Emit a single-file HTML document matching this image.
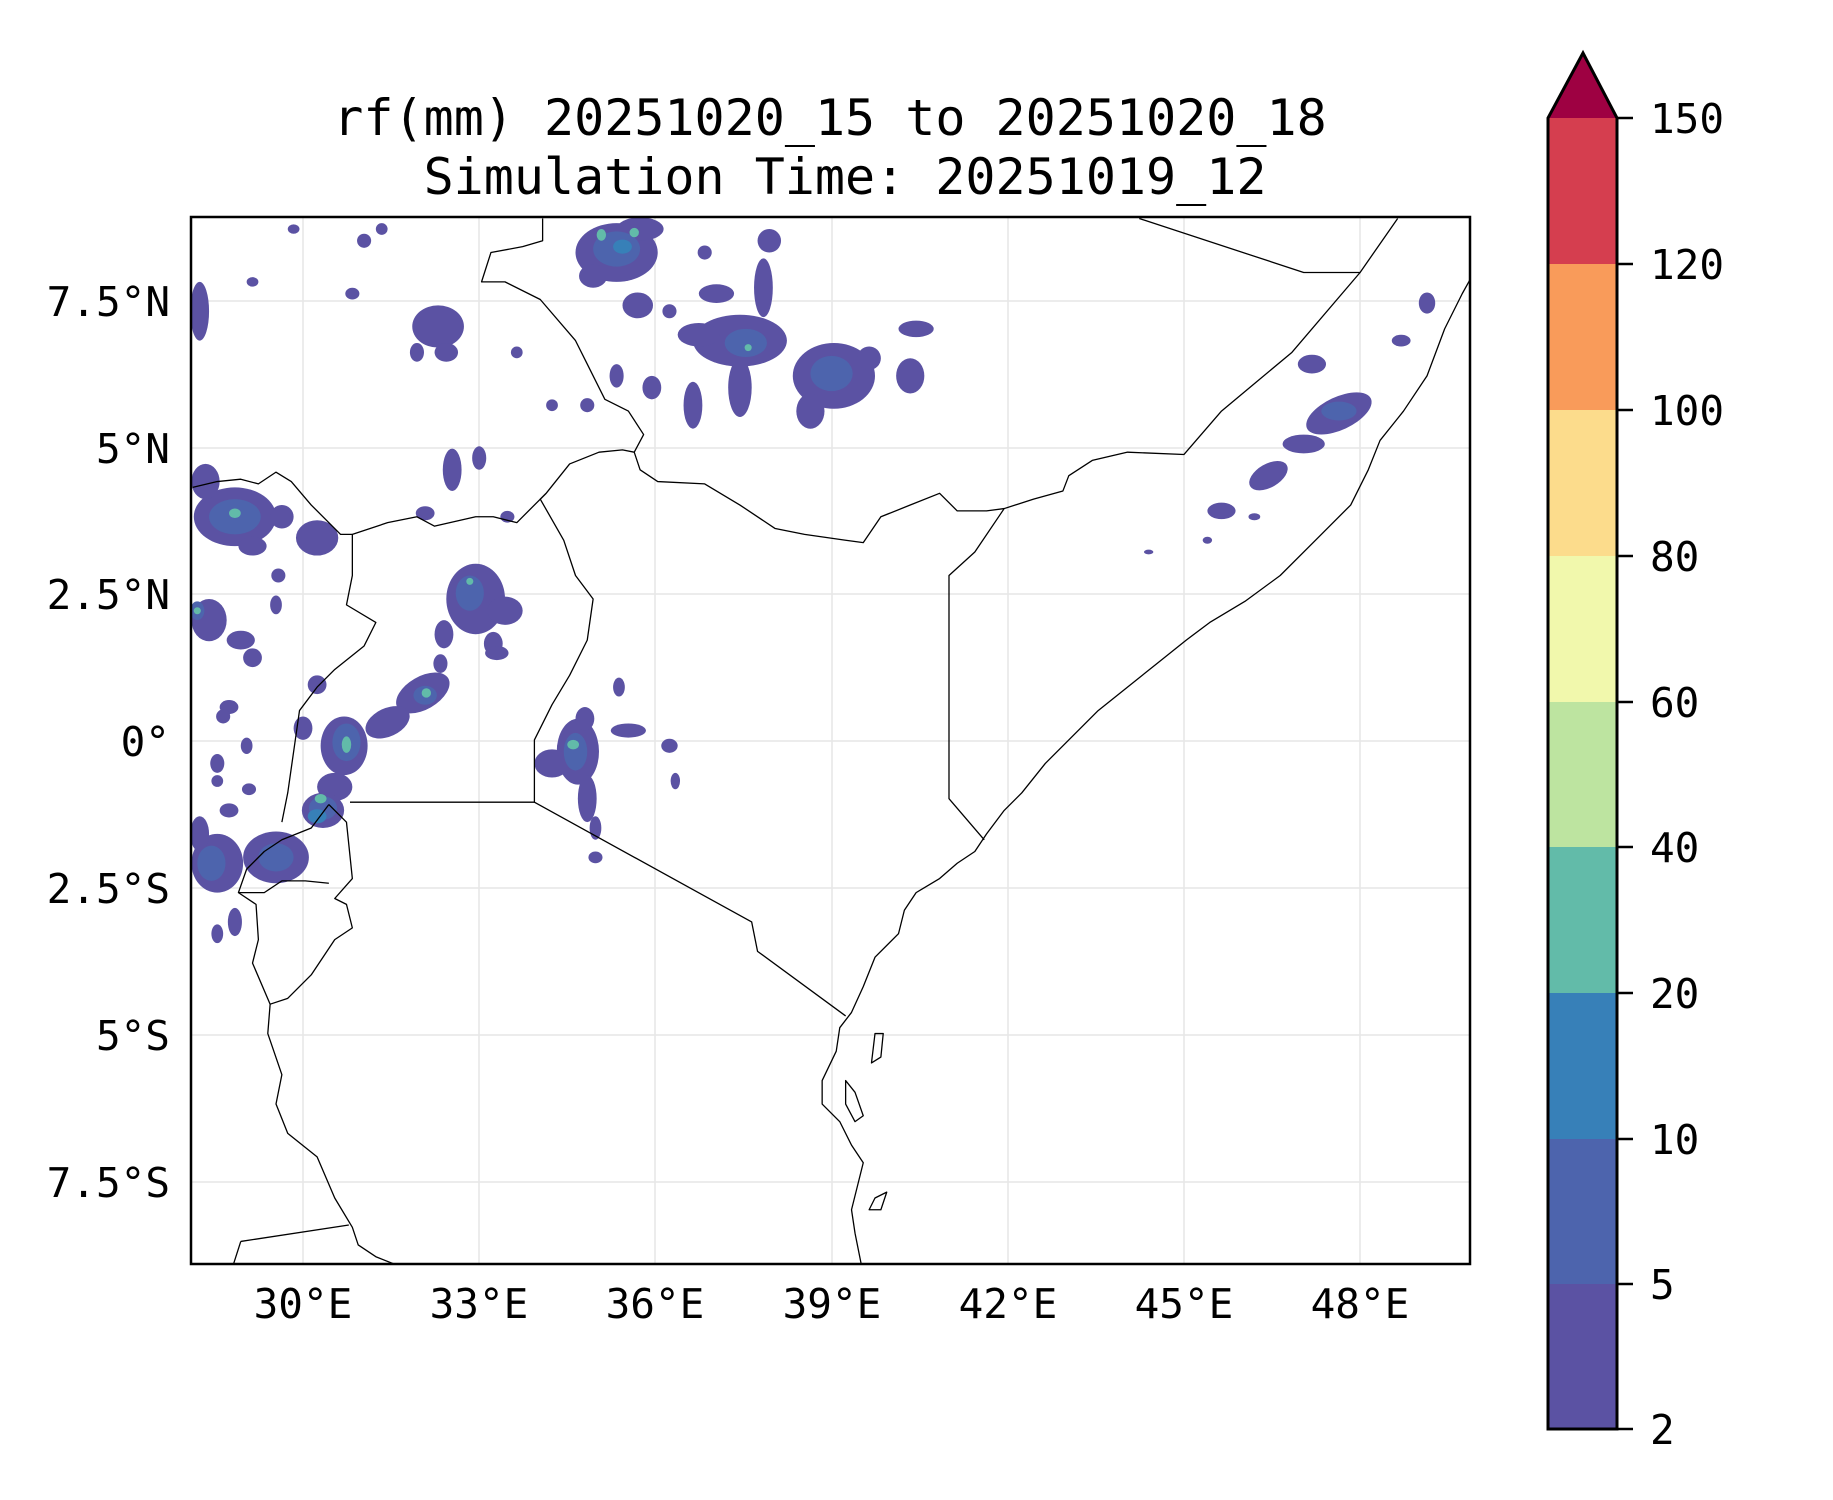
<!DOCTYPE html>
<html><head><meta charset="utf-8"><style>
html,body{margin:0;padding:0;background:#fff}
svg{display:block}
text{font-family:"DejaVu Sans Mono","Liberation Mono",monospace;fill:#000}
</style></head><body>
<svg width="1833" height="1500" viewBox="0 0 1833 1500" xmlns="http://www.w3.org/2000/svg">
<defs><clipPath id="c"><rect x="191" y="217" width="1279" height="1047"/></clipPath></defs>
<text x="830" y="135" font-size="50" text-anchor="middle">rf(mm) 20251020_15 to 20251020_18</text>
<text x="845" y="194" font-size="50" text-anchor="middle">Simulation Time: 20251019_12</text>
<g clip-path="url(#c)">
<g stroke="#e6e6e6" stroke-width="1.5">
<line x1="303" y1="217" x2="303" y2="1264"/><line x1="479" y1="217" x2="479" y2="1264"/><line x1="655" y1="217" x2="655" y2="1264"/><line x1="832" y1="217" x2="832" y2="1264"/><line x1="1008" y1="217" x2="1008" y2="1264"/><line x1="1184" y1="217" x2="1184" y2="1264"/><line x1="1360" y1="217" x2="1360" y2="1264"/>
<line x1="191" y1="301" x2="1470" y2="301"/><line x1="191" y1="448" x2="1470" y2="448"/><line x1="191" y1="594" x2="1470" y2="594"/><line x1="191" y1="741" x2="1470" y2="741"/><line x1="191" y1="888" x2="1470" y2="888"/><line x1="191" y1="1035" x2="1470" y2="1035"/><line x1="191" y1="1182" x2="1470" y2="1182"/>
</g>
<g transform="scale(1.1745)">
<g fill="#5b52a3">
<ellipse cx="525" cy="215" rx="35" ry="25"/><ellipse cx="545" cy="195" rx="20" ry="10"/><ellipse cx="505" cy="235" rx="12" ry="10"/><ellipse cx="543" cy="260" rx="13" ry="11"/>
<ellipse cx="373" cy="278" rx="22" ry="18"/><ellipse cx="380" cy="300" rx="10" ry="8"/><ellipse cx="355" cy="300" rx="6" ry="8"/>
<ellipse cx="630" cy="290" rx="40" ry="22"/><ellipse cx="595" cy="285" rx="18" ry="10"/><ellipse cx="650" cy="245" rx="8" ry="25"/><ellipse cx="630" cy="330" rx="10" ry="25"/><ellipse cx="590" cy="345" rx="8" ry="20"/><ellipse cx="610" cy="250" rx="15" ry="8"/>
<ellipse cx="710" cy="320" rx="35" ry="28"/><ellipse cx="690" cy="350" rx="12" ry="15"/><ellipse cx="775" cy="320" rx="12" ry="15"/><ellipse cx="780" cy="280" rx="15" ry="7"/><ellipse cx="740" cy="305" rx="10" ry="10"/>
<ellipse cx="555" cy="330" rx="8" ry="10"/><ellipse cx="525" cy="320" rx="6" ry="10"/><ellipse cx="500" cy="345" rx="6" ry="6"/><ellipse cx="470" cy="345" rx="5" ry="5"/><ellipse cx="310" cy="205" rx="6" ry="6"/><ellipse cx="325" cy="195" rx="5" ry="5"/><ellipse cx="250" cy="195" rx="5" ry="4"/><ellipse cx="300" cy="250" rx="6" ry="5"/><ellipse cx="215" cy="240" rx="5" ry="4"/><ellipse cx="440" cy="300" rx="5" ry="5"/><ellipse cx="655" cy="205" rx="10" ry="10"/><ellipse cx="600" cy="215" rx="6" ry="6"/><ellipse cx="570" cy="265" rx="6" ry="6"/>
<ellipse cx="385" cy="400" rx="8" ry="18"/><ellipse cx="408" cy="390" rx="6" ry="10"/><ellipse cx="362" cy="437" rx="8" ry="6"/><ellipse cx="432" cy="440" rx="6" ry="5"/>
<ellipse cx="200" cy="440" rx="35" ry="25"/><ellipse cx="175" cy="410" rx="12" ry="15"/><ellipse cx="270" cy="458" rx="18" ry="15"/><ellipse cx="240" cy="440" rx="10" ry="10"/><ellipse cx="215" cy="465" rx="12" ry="8"/><ellipse cx="237" cy="490" rx="6" ry="6"/><ellipse cx="235" cy="515" rx="5" ry="8"/>
<ellipse cx="178" cy="528" rx="15" ry="18"/><ellipse cx="205" cy="545" rx="12" ry="8"/><ellipse cx="215" cy="560" rx="8" ry="8"/><ellipse cx="195" cy="602" rx="8" ry="6"/><ellipse cx="170" cy="265" rx="8" ry="25"/>
<ellipse cx="405" cy="510" rx="25" ry="30"/><ellipse cx="430" cy="520" rx="15" ry="12"/><ellipse cx="420" cy="548" rx="8" ry="10"/><ellipse cx="378" cy="540" rx="8" ry="12"/><ellipse cx="375" cy="565" rx="6" ry="8"/><ellipse cx="423" cy="556" rx="10" ry="6"/>
<ellipse cx="360" cy="590" rx="25" ry="14" transform="rotate(-30 360 590)"/><ellipse cx="330" cy="615" rx="20" ry="12" transform="rotate(-25 330 615)"/><ellipse cx="293" cy="635" rx="20" ry="25"/><ellipse cx="285" cy="670" rx="15" ry="12"/><ellipse cx="275" cy="690" rx="18" ry="15"/><ellipse cx="258" cy="620" rx="8" ry="10"/><ellipse cx="270" cy="583" rx="8" ry="8"/>
<ellipse cx="235" cy="730" rx="28" ry="22"/><ellipse cx="185" cy="735" rx="22" ry="25"/><ellipse cx="170" cy="710" rx="8" ry="15"/><ellipse cx="195" cy="690" rx="8" ry="6"/>
<ellipse cx="185" cy="650" rx="6" ry="8"/><ellipse cx="190" cy="610" rx="6" ry="6"/><ellipse cx="185" cy="665" rx="5" ry="5"/><ellipse cx="212" cy="672" rx="6" ry="5"/><ellipse cx="210" cy="635" rx="5" ry="7"/><ellipse cx="200" cy="785" rx="6" ry="12"/><ellipse cx="185" cy="795" rx="5" ry="8"/>
<ellipse cx="492" cy="640" rx="18" ry="28"/><ellipse cx="470" cy="650" rx="15" ry="12"/><ellipse cx="500" cy="680" rx="8" ry="20"/><ellipse cx="507" cy="705" rx="5" ry="10"/><ellipse cx="498" cy="612" rx="8" ry="10"/><ellipse cx="535" cy="622" rx="15" ry="6"/><ellipse cx="570" cy="635" rx="7" ry="6"/><ellipse cx="575" cy="665" rx="4" ry="7"/><ellipse cx="527" cy="585" rx="5" ry="8"/><ellipse cx="507" cy="730" rx="6" ry="5"/>
<ellipse cx="1140" cy="352" rx="30" ry="14" transform="rotate(-25 1140 352)"/><ellipse cx="1110" cy="378" rx="18" ry="8"/><ellipse cx="1080" cy="405" rx="18" ry="10" transform="rotate(-30 1080 405)"/><ellipse cx="1117" cy="310" rx="12" ry="8"/><ellipse cx="1040" cy="435" rx="12" ry="7"/><ellipse cx="1215" cy="258" rx="7" ry="9"/><ellipse cx="1193" cy="290" rx="8" ry="5"/><ellipse cx="1068" cy="440" rx="5" ry="3"/><ellipse cx="978" cy="470" rx="4" ry="2"/><ellipse cx="1028" cy="460" rx="4" ry="3"/>
</g>
<g fill="#4d64ad">
<ellipse cx="525" cy="212" rx="20" ry="15"/><ellipse cx="635" cy="292" rx="18" ry="12"/><ellipse cx="708" cy="318" rx="18" ry="15"/><ellipse cx="200" cy="440" rx="22" ry="15"/><ellipse cx="400" cy="505" rx="12" ry="15"/><ellipse cx="295" cy="632" rx="12" ry="16"/><ellipse cx="275" cy="688" rx="12" ry="10"/><ellipse cx="235" cy="730" rx="15" ry="12"/><ellipse cx="180" cy="735" rx="12" ry="15"/><ellipse cx="490" cy="640" rx="10" ry="16"/><ellipse cx="362" cy="592" rx="10" ry="8"/><ellipse cx="1140" cy="350" rx="15" ry="8"/><ellipse cx="168" cy="520" rx="6" ry="8"/>
</g>
<g fill="#3780b8"><ellipse cx="270" cy="695" rx="8" ry="6"/><ellipse cx="530" cy="210" rx="8" ry="6"/></g>
<g fill="#62bba9">
<ellipse cx="512" cy="200" rx="4" ry="5"/><ellipse cx="540" cy="198" rx="4" ry="4"/><ellipse cx="200" cy="437" rx="5" ry="4"/><ellipse cx="295" cy="634" rx="4" ry="7"/><ellipse cx="273" cy="680" rx="5" ry="4"/><ellipse cx="488" cy="634" rx="5" ry="4"/><ellipse cx="363" cy="590" rx="4" ry="4"/><ellipse cx="400" cy="495" rx="3" ry="3"/><ellipse cx="637" cy="296" rx="3" ry="3"/><ellipse cx="168" cy="520" rx="3" ry="3"/>
</g>
<g fill="none" stroke="#000" stroke-width="1.1" stroke-linejoin="round">
<polyline points="1255,232 1245,250 1230,280 1215,320 1195,350 1175,375 1165,400 1150,430 1120,460 1090,490 1060,512 1030,530 1010,545 985,565 960,585 935,605 910,630 890,650 870,675 855,690 840,710 830,725 815,735 800,748 780,760 770,775 765,795 745,815 735,840 725,862 715,875 712,895 700,920 700,940 715,955 725,975 735,990 730,1010 725,1030 728,1050 735,1085"/>
<polyline points="970,186 1110,232 1158,232 1190,186"/>
<polyline points="1158,232 1100,300 1040,350 1008,387 960,385 930,392 910,405 905,418 880,425 855,433 830,470 808,490 808,680 838,715"/>
<polyline points="855,433 840,435 815,435 800,420 775,430 750,440 735,462 720,460 685,455 660,450 630,430 600,412 560,410 545,400 540,385 530,383 510,385 485,395 465,420 440,445 420,440 405,440 370,448 355,440 330,445 300,455 290,455 265,430 248,410 235,402 220,412 205,408 185,410 164,415"/>
<polyline points="540,385 548,370 535,350 515,340 500,310 490,290 460,255 430,240 410,240 418,215 445,210 462,205 462,186"/>
<polyline points="465,420 460,425 480,460 490,490 505,510 500,545 485,575 470,600 455,630 455,683 640,785 645,810 720,865"/>
<polyline points="300,455 300,490 295,515 320,530 310,550 285,570 270,585 255,605 250,640 245,675 240,700"/>
<polyline points="298,683 455,683"/>
<polyline points="280,685 265,705 240,715 225,725 210,740 203,760 218,770 220,800 215,820 230,855 228,880 240,915 235,940 245,965 270,985 285,1020 300,1045 305,1060 320,1070 340,1078 360,1085"/>
<polyline points="230,855 245,850 265,830 285,800 300,790 295,770 285,765 300,748 295,700 280,685"/>
<polyline points="203,760 225,760 240,750 260,750 280,752"/>
<polyline points="205,1057 297,1043"/><polyline points="205,1057 196,1085"/>
<path d="M720,920 L728,930 735,950 728,955 720,940Z"/><path d="M745,880 L752,880 750,900 742,905Z"/><path d="M745,1020 L755,1015 750,1030 740,1030Z"/>
</g>
</g>
</g>
<rect x="191" y="217" width="1279" height="1047" fill="none" stroke="#000" stroke-width="2.5"/>
<g font-size="41" text-anchor="end">
<text x="170" y="316">7.5°N</text><text x="170" y="463">5°N</text><text x="170" y="609">2.5°N</text><text x="170" y="756">0°</text><text x="170" y="903">2.5°S</text><text x="170" y="1050">5°S</text><text x="170" y="1197">7.5°S</text>
</g>
<g font-size="41" text-anchor="middle">
<text x="303" y="1318">30°E</text><text x="479" y="1318">33°E</text><text x="655" y="1318">36°E</text><text x="832" y="1318">39°E</text><text x="1008" y="1318">42°E</text><text x="1184" y="1318">45°E</text><text x="1360" y="1318">48°E</text>
</g>
<g>
<rect x="1548" y="118" width="69" height="146" fill="#d53e4f"/>
<rect x="1548" y="264" width="69" height="146" fill="#f99b5a"/>
<rect x="1548" y="410" width="69" height="146" fill="#fcdc8c"/>
<rect x="1548" y="556" width="69" height="146" fill="#f1f8ac"/>
<rect x="1548" y="702" width="69" height="145" fill="#bde4a0"/>
<rect x="1548" y="847" width="69" height="146" fill="#62bba9"/>
<rect x="1548" y="993" width="69" height="146" fill="#3780b8"/>
<rect x="1548" y="1139" width="69" height="145" fill="#4d64ad"/>
<rect x="1548" y="1284" width="69" height="145" fill="#5b52a3"/>
<polygon points="1548,118 1583,53 1617,118" fill="#9e0142"/>
<polygon points="1548,1429 1548,118 1583,53 1617,118 1617,1429" fill="none" stroke="#000" stroke-width="3"/>
<g stroke="#000" stroke-width="2.5">
<line x1="1617" y1="118" x2="1633" y2="118"/><line x1="1617" y1="264" x2="1633" y2="264"/><line x1="1617" y1="410" x2="1633" y2="410"/><line x1="1617" y1="556" x2="1633" y2="556"/><line x1="1617" y1="702" x2="1633" y2="702"/><line x1="1617" y1="847" x2="1633" y2="847"/><line x1="1617" y1="993" x2="1633" y2="993"/><line x1="1617" y1="1139" x2="1633" y2="1139"/><line x1="1617" y1="1284" x2="1633" y2="1284"/><line x1="1617" y1="1429" x2="1633" y2="1429"/>
</g>
<g font-size="41">
<text x="1650" y="133">150</text><text x="1650" y="279">120</text><text x="1650" y="425">100</text><text x="1650" y="571">80</text><text x="1650" y="717">60</text><text x="1650" y="862">40</text><text x="1650" y="1008">20</text><text x="1650" y="1154">10</text><text x="1650" y="1299">5</text><text x="1650" y="1444">2</text>
</g>
</g>
</svg>
</body></html>
